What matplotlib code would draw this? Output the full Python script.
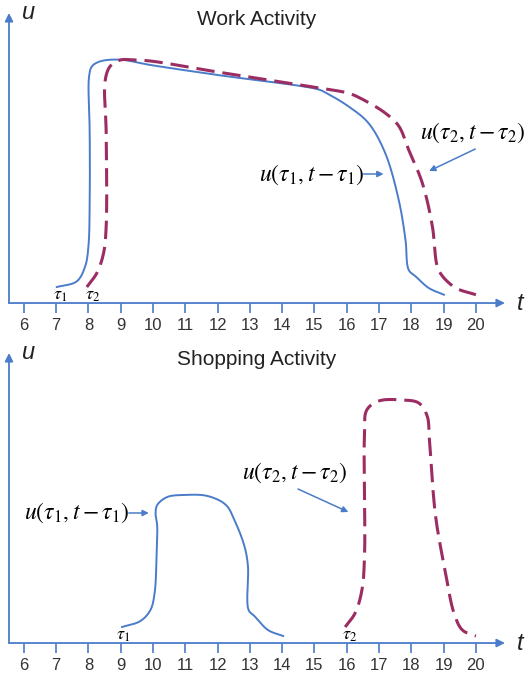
import matplotlib.pyplot as plt
import numpy as np

plt.rcParams['font.family'] = ['Liberation Sans', 'DejaVu Sans']
plt.rcParams['mathtext.fontset'] = 'stix'

BLUE = '#4a7cc9'
PURPLE = '#9b2d62'
AXC = '#4a7cc9'

ticks = list(range(6, 21))

# work activity, tau1 (solid) and tau2 (dashed); u in arbitrary units
work_t1 = [7.02, 7.64, 7.90, 8.00, 8.04, 8.04, 8.02, 8.11, 8.37, 8.99, 9.92, 12.0,
           15.11, 15.35, 16.05, 16.67, 17.19, 17.61, 17.82, 17.92, 18.13, 18.54, 19.01]
work_u1 = [16, 21.7, 36.7, 56.7, 103, 170, 226.7, 236.7, 241.7, 243.3, 238, 228,
           213.7, 210.3, 196.7, 180, 150, 103, 63, 33, 26.7, 15, 8.3]
work_t2 = [7.95, 8.26, 8.47, 8.55, 8.55, 8.52, 8.68, 8.99, 9.41, 9.92, 12.0, 15.83,
           16.05, 16.47, 17.19, 17.61, 17.92, 18.34, 18.65, 18.80, 18.96, 19.38, 20.0]
work_u2 = [16, 30, 50, 77, 170, 223, 237, 243, 243, 242, 231, 211.5,
           210, 204, 190, 177, 153, 120, 77, 37, 27, 15, 8.3]

# shopping activity
shop_t1 = [9.04, 9.61, 9.92, 10.05, 10.11, 10.13, 10.08, 10.13, 10.44, 10.96, 11.69,
           12.26, 12.52, 12.83, 12.94, 12.96, 13.14, 13.56, 14.03]
shop_u1 = [16, 22, 33, 50, 87, 117, 130, 138, 146, 148, 147,
           138, 123, 97, 77, 33, 27, 13, 7]
shop_t2 = [15.95, 16.26, 16.47, 16.55, 16.55, 16.62, 16.99, 17.71, 18.23, 18.49, 18.56,
           18.75, 19.06, 19.32, 19.58, 20.0]
shop_u2 = [16, 30, 53, 87, 210, 233, 242, 243, 240, 227, 203,
           127, 70, 30, 13, 7]


def smooth(ax, t, u, n=16):
    # centripetal catmull-rom, done in pixel space so the curve doesn't loop
    pts = ax.transData.transform(np.column_stack([t, u]))
    P = np.vstack([2 * pts[0] - pts[1], pts, 2 * pts[-1] - pts[-2]])
    out = []
    for i in range(1, len(P) - 2):
        p0, p1, p2, p3 = P[i - 1], P[i], P[i + 1], P[i + 2]
        t0 = 0.0
        t1 = t0 + np.linalg.norm(p1 - p0) ** 0.5 + 1e-9
        t2 = t1 + np.linalg.norm(p2 - p1) ** 0.5 + 1e-9
        t3 = t2 + np.linalg.norm(p3 - p2) ** 0.5 + 1e-9
        for s in np.linspace(t1, t2, n, endpoint=False):
            a1 = (t1 - s) / (t1 - t0) * p0 + (s - t0) / (t1 - t0) * p1
            a2 = (t2 - s) / (t2 - t1) * p1 + (s - t1) / (t2 - t1) * p2
            a3 = (t3 - s) / (t3 - t2) * p2 + (s - t2) / (t3 - t2) * p3
            b1 = (t2 - s) / (t2 - t0) * a1 + (s - t0) / (t2 - t0) * a2
            b2 = (t3 - s) / (t3 - t1) * a2 + (s - t1) / (t3 - t1) * a3
            out.append((t2 - s) / (t2 - t1) * b1 + (s - t1) / (t2 - t1) * b2)
    out.append(P[-2])
    out = ax.transData.inverted().transform(np.array(out))
    return out[:, 0], out[:, 1]


def setup(ax, title):
    ax.set_xlim(5.54, 20.9)
    ax.set_ylim(0, 290)
    for s in ax.spines.values():
        s.set_visible(False)
    ax.set_xticks(ticks)
    ax.set_xticklabels([str(v) for v in ticks])
    ax.tick_params(axis='x', colors=AXC, labelcolor='#333333', length=7, width=1.2,
                   pad=4, labelsize=12)
    ax.set_yticks([])
    ax.annotate('', xy=(1, 0), xytext=(0, 0), xycoords='axes fraction',
                arrowprops=dict(arrowstyle='-|>', color=AXC, lw=1.3,
                                mutation_scale=12, shrinkA=0, shrinkB=0))
    ax.annotate('', xy=(0, 1), xytext=(0, 0), xycoords='axes fraction',
                arrowprops=dict(arrowstyle='-|>', color=AXC, lw=1.3,
                                mutation_scale=12, shrinkA=0, shrinkB=0))
    ax.text(0.5, 0.976, title, transform=ax.transAxes, ha='center', va='center',
            fontsize=15, color='#222222')
    ax.text(0.04, 1.0, 'u', transform=ax.transAxes, ha='center', va='center',
            fontsize=17, style='italic', color='#222222')
    ax.text(1.03, 0.0, 't', transform=ax.transAxes, ha='center', va='center',
            fontsize=17, style='italic', color='#222222')


fig = plt.figure(figsize=(5.29, 6.77), dpi=100)
ax1 = fig.add_axes([0.017, 0.5524, 0.9376, 0.4284])
ax2 = fig.add_axes([0.017, 0.0502, 0.9376, 0.4284])
setup(ax1, 'Work Activity')
setup(ax2, 'Shopping Activity')

lab1 = r'$u\left(\tau_1,t-\tau_1\right)$'
lab2 = r'$u\left(\tau_2,t-\tau_2\right)$'
arr = dict(arrowstyle='-|>', color=BLUE, lw=1.1, mutation_scale=9, shrinkA=0, shrinkB=0)

# top panel
x, y = smooth(ax1, work_t1, work_u1)
ax1.plot(x, y, color=BLUE, lw=1.4)
x, y = smooth(ax1, work_t2, work_u2)
ax1.plot(x, y, color=PURPLE, lw=2.2, dashes=(6, 2.6))
ax1.text(7.12, 8, r'$\tau_1$', ha='center', va='center', fontsize=13)
ax1.text(8.14, 8, r'$\tau_2$', ha='center', va='center', fontsize=13)
ax1.text(14.9, 128, lab1, ha='center', va='center', fontsize=17)
ax1.annotate('', xy=(17.14, 129), xytext=(16.52, 129), arrowprops=arr)
ax1.text(19.9, 170, lab2, ha='center', va='center', fontsize=17)
ax1.annotate('', xy=(18.55, 132), xytext=(19.98, 154), arrowprops=arr)

# bottom panel
x, y = smooth(ax2, shop_t1, shop_u1)
ax2.plot(x, y, color=BLUE, lw=1.4)
x, y = smooth(ax2, shop_t2, shop_u2)
ax2.plot(x, y, color=PURPLE, lw=2.2, dashes=(6, 2.6))
ax2.text(9.09, 8, r'$\tau_1$', ha='center', va='center', fontsize=13)
ax2.text(16.08, 8, r'$\tau_2$', ha='center', va='center', fontsize=13)
ax2.text(7.64, 130, lab1, ha='center', va='center', fontsize=17)
ax2.annotate('', xy=(9.87, 130), xytext=(9.25, 130), arrowprops=arr)
ax2.text(14.39, 170, lab2, ha='center', va='center', fontsize=17)
ax2.annotate('', xy=(16.05, 131), xytext=(14.49, 154), arrowprops=arr)

fig.savefig('out.png', dpi=100)
